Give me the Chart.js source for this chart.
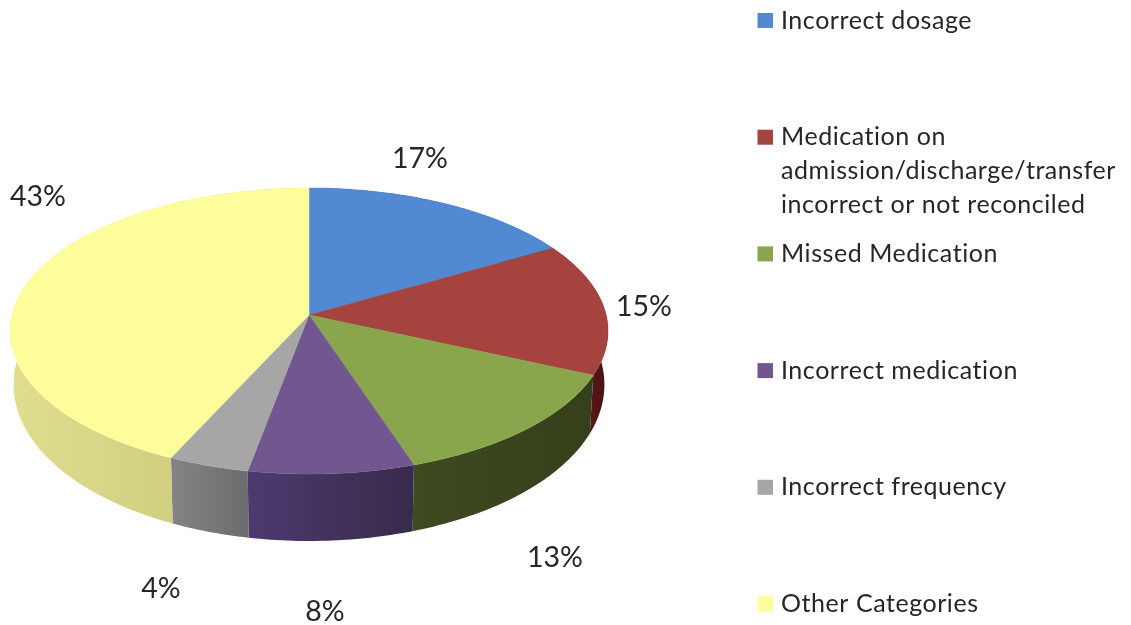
<!DOCTYPE html>
<html>
<head>
<meta charset="utf-8">
<style>html,body{margin:0;padding:0;background:#fff}canvas{display:block}</style>
<script src="https://cdn.jsdelivr.net/npm/chart.js@4"></script>
</head>
<body>
<canvas id="c" width="1131" height="625"></canvas>
<script>
const categories = [
  ["Incorrect dosage"],
  ["Medication on", "admission/discharge/transfer", "incorrect or not reconciled"],
  ["Missed Medication"],
  ["Incorrect medication"],
  ["Incorrect frequency"],
  ["Other Categories"]
];
const percentages = [17, 15, 13, 8, 4, 43];
const topColors = ["#5289D3", "#A5433F", "#8AA64D", "#72568F", "#A6A6A6", "#FDFD9B"];
const sideFrom = ["#2F5587", "#6E1F1F", "#3E4A20", "#4D3A70", "#848484", "#DEDE8E"];
const sideTo = ["#2F5587", "#4A1212", "#353F1B", "#382A4A", "#6C6C6C", "#C4C474"];

const LEGEND_FONT = '25px Lato, "Open Sans", sans-serif';
const VALUE_FONT = '28.5px Lato, "Open Sans", sans-serif';
const INK = "#262626";

// projection of the round pie onto the page (perspective view)
const view = { cx: 309, cy: 315, a: 297.1, b: 141.2, p: -0.112, turn: 0.022, shrink: 0.988, d0: 52, d1: 15 };
function ring(theta, lower) {
  const t = theta - view.turn * Math.abs(Math.sin(theta));
  const u = Math.sin(t), v = -Math.cos(t), w = 1 + view.p * v;
  let x = view.a * u / w, y = view.b * v / w;
  if (lower) { x *= view.shrink; y += view.d0 + view.d1 * v; }
  return [view.cx + x, view.cy + y];
}
const STEP = Math.PI / 180;
function arcPoints(a0, a1, lower) {
  const pts = [], n = Math.max(2, Math.ceil((a1 - a0) / STEP));
  for (let i = 0; i <= n; i++) pts.push(ring(a0 + (a1 - a0) * i / n, lower));
  return pts;
}

const labelSpots = [[420,159],[644,307],[555,558],[325,612],[161,589],[38,197]];

const piePerspective = {
  id: "piePerspective",
  beforeDatasetsDraw(chart) {
    const ctx = chart.ctx;
    const arcs = chart.getDatasetMeta(0).data;
    const spans = arcs.map(el => {
      const s = el.getProps(["startAngle", "endAngle"], true);
      return [s.startAngle + Math.PI / 2, s.endAngle + Math.PI / 2];
    });
    // side wall
    spans.forEach(([a0, a1], i) => {
      const top = arcPoints(a0, a1, false), low = arcPoints(a0, a1, true).reverse();
      const xs = top.map(p => p[0]);
      const g = ctx.createLinearGradient(Math.min(...xs), 0, Math.max(...xs), 0);
      g.addColorStop(0, sideFrom[i]);
      g.addColorStop(1, sideTo[i]);
      ctx.beginPath();
      [...top, ...low].forEach((p, k) => k ? ctx.lineTo(p[0], p[1]) : ctx.moveTo(p[0], p[1]));
      ctx.closePath();
      ctx.fillStyle = g;
      ctx.fill();
    });
    // top face
    spans.forEach(([a0, a1], i) => {
      ctx.beginPath();
      ctx.moveTo(view.cx, view.cy);
      arcPoints(a0, a1, false).forEach(p => ctx.lineTo(p[0], p[1]));
      ctx.closePath();
      ctx.fillStyle = topColors[i];
      ctx.strokeStyle = topColors[i];
      ctx.lineWidth = 0.5;
      ctx.fill();
      ctx.stroke();
    });
    return false;
  },
  afterDraw(chart) {
    const ctx = chart.ctx;
    ctx.save();
    ctx.font = VALUE_FONT;
    ctx.fillStyle = INK;
    ctx.textBaseline = "middle";
    ctx.textAlign = "center";
    percentages.forEach((v, i) => ctx.fillText(v + "%", labelSpots[i][0], labelSpots[i][1]));
    ctx.textAlign = "left";
    ctx.font = LEGEND_FONT;
    ctx.letterSpacing = "0.55px";
    categories.forEach((lines, i) => {
      const y = 20.5 + i * 116.7;
      ctx.fillStyle = topColors[i];
      ctx.fillRect(757.5, y - 7.5, 15.5, 15);
      ctx.fillStyle = INK;
      lines.forEach((t, k) => ctx.fillText(t, 781, y + k * 34));
    });
    ctx.restore();
  }
};

new Chart(document.getElementById("c"), {
  type: "pie",
  data: {
    labels: categories,
    datasets: [{ data: percentages, backgroundColor: topColors, borderWidth: 0 }]
  },
  options: {
    responsive: false,
    animation: false,
    events: [],
    plugins: { legend: { display: false }, tooltip: { enabled: false }, title: { display: false } }
  },
  plugins: [piePerspective]
});
</script>
</body>
</html>
